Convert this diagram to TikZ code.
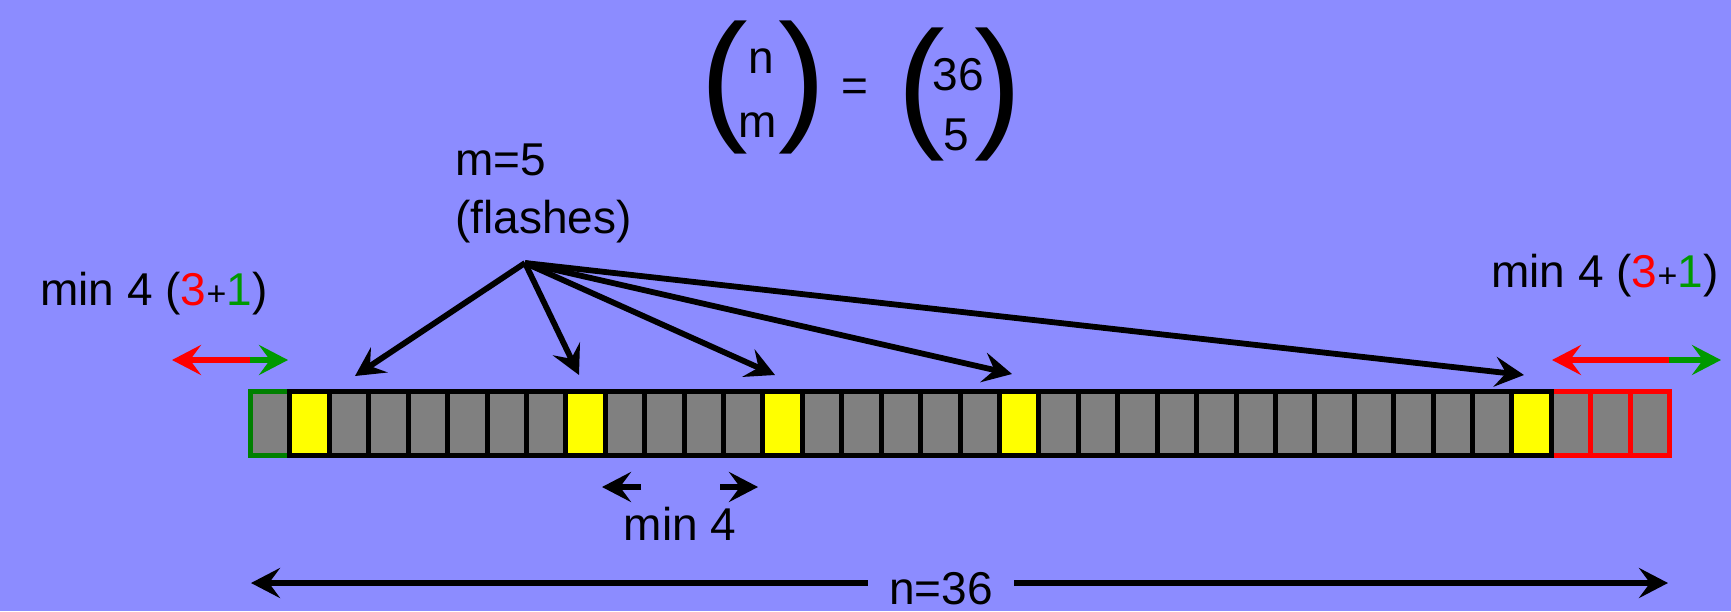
\documentclass[tikz,border=0pt]{standalone}
\usepackage{fontspec}
\setmainfont{Liberation Sans}
\usetikzlibrary{arrows.meta}
\definecolor{bg}{RGB}{140,140,255}
\definecolor{cellgray}{RGB}{128,128,128}
\definecolor{darkgreen}{RGB}{0,128,0}
\definecolor{arrgreen}{RGB}{0,153,0}
\definecolor{myred}{RGB}{255,0,0}
\definecolor{myyellow}{RGB}{255,255,0}
\begin{document}
\begin{tikzpicture}[x=0.5pt,y=-0.5pt,
  lbl/.style={inner sep=0pt, font=\fontsize{23}{23}\selectfont},
  paren/.style={inner sep=0pt, font=\fontsize{71.5}{71.5}\selectfont, anchor=base},
  tiphead/.style={-{Stealth[length=14.5pt,width=15pt,inset=5.5pt]}},
  arr/.style={tiphead, line width=2.9pt, black},
  colarr/.style={tiphead, line width=3pt},
  cellbox/.style={line width=2.5pt, fill=cellgray},
]
\fill[bg] (0,0) rectangle (1731,611);
\useasboundingbox (0,0) rectangle (1731,611);

% ---- bar of cells
\def\cw{39.42}
\draw[cellbox, draw=darkgreen] (250.5,391.5) rectangle ++(\cw,64);
\foreach \i in {33,34,35}
  \draw[cellbox, draw=myred] (250.5+\i*\cw,391.5) rectangle ++(\cw,64);
\foreach \i in {1,...,32}
  \draw[cellbox, draw=black] (250.5+\i*\cw,391.5) rectangle ++(\cw,64);
\foreach \i in {1,8,13,19,32}
  \draw[cellbox, draw=black, fill=myyellow] (250.5+\i*\cw,391.5) rectangle ++(\cw,64);

% ---- binomial
\node[paren] (lpL) at (724,124) {(};
\node[paren] (lpR) at (802,124) {)};
\node[paren] (rpL) at (921,131) {(};
\node[paren] (rpR) at (998,131) {)};
\node[lbl, anchor=base] (bn) at (761,73) {n};
\node[lbl, anchor=base] (bm) at (758,137) {m};
\node[lbl, anchor=base] (eq) at (855,101) {=};
\node[lbl, anchor=base] (b36) at (958,90) {36};
\node[lbl, anchor=base] (b5) at (956,150) {5};

% ---- flashes label and arrows
\node[lbl, anchor=base west] (fl1) at (455,175) {m=5};
\node[lbl, anchor=base west] (fl2) at (455,233) {(flashes)};
\coordinate (apex) at (525,263);
\coordinate (t1) at (355,376);
\coordinate (t2) at (579,375);
\coordinate (t3) at (775,375);
\coordinate (t4) at (1012,374);
\coordinate (t5) at (1524,375);
\foreach \t in {t1,t2,t3,t4,t5}
  \draw[arr] (apex) -- (\t);

% ---- side labels
\node[lbl, anchor=base west] (minL) at (40,305)
  {min 4 ({\color{myred}3}{\fontsize{17}{17}\selectfont+}{\color{arrgreen}1})};
\node[lbl, anchor=base west] (minR) at (1491,287)
  {min 4 ({\color{myred}3}{\fontsize{17}{17}\selectfont+}{\color{arrgreen}1})};
\coordinate (lsplit) at (250,360);
\coordinate (lred) at (172,360);
\coordinate (lgreen) at (288,360);
\draw[colarr, myred] (lsplit) -- (lred);
\draw[colarr, arrgreen] (lsplit) -- (lgreen);
\coordinate (rsplit) at (1669,360);
\coordinate (rred) at (1552,360);
\coordinate (rgreen) at (1721,360);
\draw[colarr, myred] (rsplit) -- (rred);
\draw[colarr, arrgreen] (rsplit) -- (rgreen);

% ---- min 4 between flashes
\node[lbl, anchor=base] (min4) at (680,540) {min 4};
\coordinate (mL0) at (641,487);
\coordinate (mL1) at (602,487);
\coordinate (mR0) at (720,487);
\coordinate (mR1) at (758,487);
\draw[arr] (mL0) -- (mL1);
\draw[arr] (mR0) -- (mR1);

% ---- n = 36
\node[lbl, anchor=base, inner xsep=10.5pt] (n36) at (941,604) {n=36};
\coordinate (bL) at (251,583);
\coordinate (bR) at (1668,583);
\draw[arr] (n36.west |- bL) -- (bL);
\draw[arr] (n36.east |- bR) -- (bR);
\end{tikzpicture}
\end{document}
